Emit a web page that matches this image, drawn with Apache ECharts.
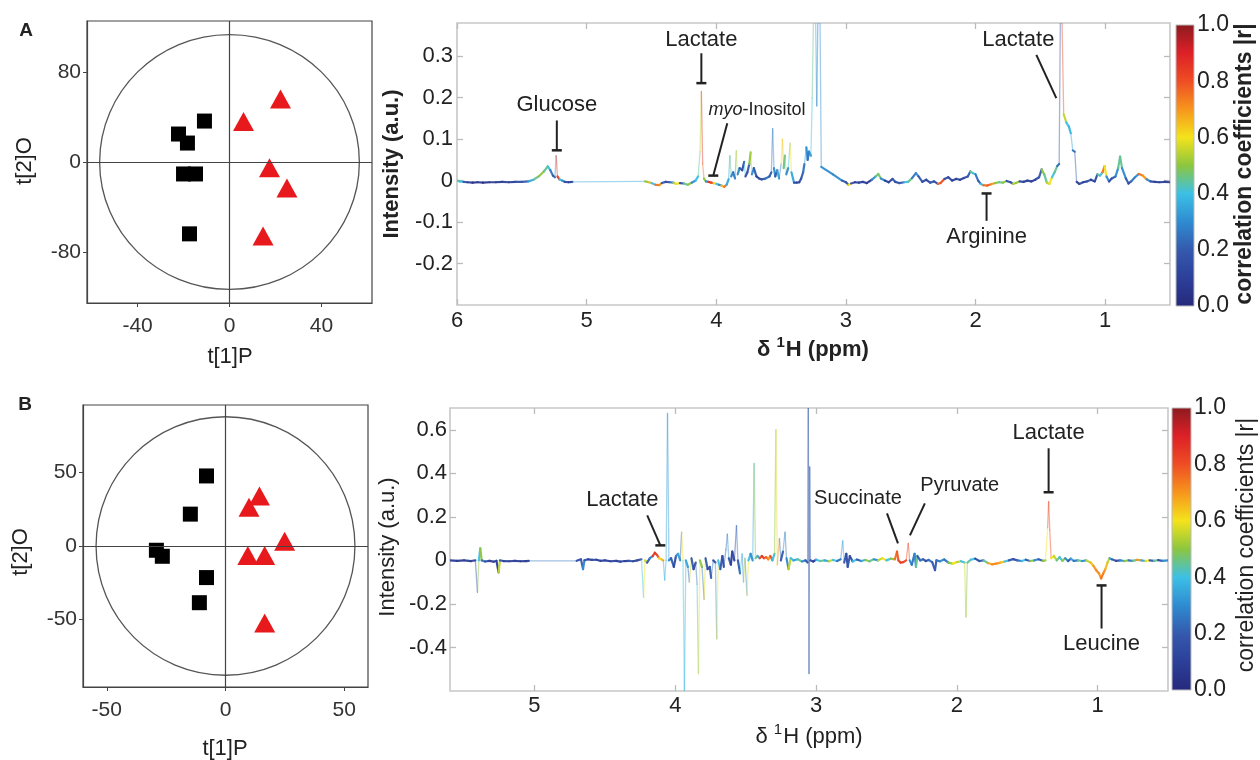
<!DOCTYPE html>
<html><head><meta charset="utf-8">
<script src="https://cdn.jsdelivr.net/npm/echarts@6/dist/echarts.min.js"></script>
<style>html,body{margin:0;padding:0;background:#fff}#c{width:1260px;height:760px}</style>
</head><body><div id="c"></div>
<script>
const FONT = '"Liberation Sans", Arial, Helvetica, sans-serif';

// ---------- score plots (t[1]P, t[2]O) ----------
const scoreA_control = [[-22.2,24.8],[-18.3,16.8],[-10.9,36.3],[-20,-10.6],[-14.8,-10.6],[-17.4,-63.7]];
const scoreA_treated = [[22.2,55.8],[6.1,36],[17.4,-5],[25,-23],[14.6,-65.5]];
const ellipseA = [0, 0, 56.5, 113];          // centre x, centre y, semi-axis x, semi-axis y
const ticksA_x = [-40, 0, 40];
const ticksA_y = [-80, 0, 80];

const scoreB_control = [[-8,47.7],[-14.8,21.7],[-29.1,-2.9],[-26.6,-7],[-8,-21.5],[-11,-38.6]];
const scoreB_treated = [[14.3,34],[9.9,26.4],[24.9,3.2],[9.4,-6.4],[16.5,-6.4],[16.5,-52.4]];
const ellipseB = [0, 0, 54.5, 88];
const ticksB_x = [-50, 0, 50];
const ticksB_y = [-50, 0, 50];

// ---------- spectra: [ppm, intensity, |r|] ----------
const specA = [
[6.00,0.000,0.45],[5.98,-0.002,0.40],[5.95,-0.003,0.20],[5.92,-0.004,0.10],[5.88,-0.005,0.05],[5.84,-0.004,0.08],
[5.80,-0.005,0.05],[5.75,-0.004,0.10],[5.70,-0.004,0.08],[5.65,-0.003,0.12],[5.60,-0.004,0.10],[5.55,-0.003,0.15],
[5.50,-0.003,0.20],[5.45,-0.002,0.35],[5.41,0.002,0.45],[5.37,0.010,0.50],[5.33,0.022,0.45],[5.30,0.034,0.40],
[5.28,0.025,0.25],[5.26,0.012,0.20],[5.245,0.008,0.30],[5.235,0.060,0.85],[5.225,0.010,0.85],[5.21,0.003,0.40],
[5.19,0.000,0.30],[5.17,-0.003,0.15],[5.14,-0.004,0.10],[5.11,-0.003,0.35],[4.55,-0.002,0.50],[4.52,-0.004,0.65],
[4.50,-0.006,0.40],[4.47,-0.010,0.75],[4.44,-0.011,0.70],[4.42,-0.006,0.20],[4.39,-0.003,0.15],[4.36,-0.004,0.25],
[4.33,-0.005,0.55],[4.31,-0.008,0.60],[4.28,-0.006,0.15],[4.25,-0.007,0.45],[4.22,-0.010,0.50],[4.19,-0.005,0.30],
[4.16,0.000,0.40],[4.14,0.010,0.45],[4.125,0.070,0.55],[4.115,0.215,0.85],[4.105,0.040,0.75],[4.095,0.005,0.50],
[4.08,-0.002,0.30],[4.06,-0.003,0.85],[4.04,-0.005,0.80],[4.02,-0.006,0.60],[4.00,-0.008,0.40],[3.98,-0.010,0.30],
[3.96,-0.012,0.65],[3.94,-0.015,0.75],[3.92,-0.010,0.35],[3.905,0.003,0.35],[3.895,0.060,0.45],[3.885,0.010,0.30],
[3.87,0.020,0.25],[3.855,0.005,0.35],[3.845,0.072,0.60],[3.835,0.015,0.30],[3.82,0.030,0.20],[3.80,0.025,0.15],
[3.785,0.045,0.40],[3.775,0.010,0.15],[3.76,0.020,0.20],[3.745,0.040,0.50],[3.735,0.068,0.55],[3.725,0.015,0.30],
[3.71,0.030,0.20],[3.69,0.010,0.10],[3.67,0.005,0.15],[3.65,0.003,0.18],[3.62,0.005,0.25],[3.59,0.010,0.20],
[3.575,0.020,0.25],[3.565,0.125,0.30],[3.555,0.030,0.30],[3.545,0.010,0.20],[3.53,0.025,0.35],[3.515,0.005,0.25],
[3.50,0.040,0.60],[3.49,0.100,0.65],[3.48,0.030,0.45],[3.47,0.060,0.55],[3.46,0.015,0.30],[3.445,0.030,0.40],
[3.43,0.090,0.60],[3.42,0.020,0.35],[3.40,-0.005,0.15],[3.38,-0.005,0.12],[3.36,-0.004,0.15],[3.345,0.005,0.20],
[3.33,0.020,0.25],[3.32,0.040,0.30],[3.305,0.080,0.30],[3.295,0.050,0.25],[3.285,0.070,0.30],[3.27,0.060,0.40],
[3.26,0.200,0.45],[3.25,0.400,0.35],[3.235,0.420,0.35],[3.225,0.180,0.25],[3.215,0.420,0.35],[3.20,0.400,0.30],
[3.19,0.033,0.30],[3.10,0.015,0.30],[3.03,0.000,0.20],[3.00,-0.004,0.15],[2.98,-0.010,0.60],[2.96,-0.007,0.15],
[2.93,-0.004,0.10],[2.90,-0.005,0.12],[2.87,-0.003,0.10],[2.84,-0.006,0.08],[2.80,0.002,0.30],[2.77,0.010,0.45],
[2.75,0.016,0.48],[2.73,0.005,0.30],[2.70,0.000,0.10],[2.67,-0.004,0.12],[2.64,0.004,0.20],[2.62,-0.003,0.15],
[2.59,-0.006,0.20],[2.55,-0.004,0.40],[2.52,-0.003,0.45],[2.49,0.006,0.25],[2.46,0.018,0.30],[2.44,0.010,0.20],
[2.41,-0.003,0.15],[2.38,0.002,0.12],[2.35,-0.005,0.20],[2.32,-0.002,0.15],[2.29,-0.008,0.75],[2.27,-0.006,0.80],
[2.24,0.004,0.15],[2.21,0.008,0.12],[2.18,0.000,0.10],[2.15,0.004,0.12],[2.12,0.002,0.10],[2.09,0.006,0.15],
[2.06,0.010,0.20],[2.04,0.022,0.45],[2.02,0.018,0.40],[2.00,0.015,0.25],[1.98,0.000,0.20],[1.96,-0.008,0.40],
[1.94,-0.011,0.75],[1.91,-0.012,0.78],[1.88,-0.009,0.70],[1.85,-0.006,0.50],[1.82,-0.004,0.45],[1.79,-0.005,0.50],
[1.76,-0.001,0.15],[1.73,-0.004,0.20],[1.71,-0.008,0.55],[1.69,-0.006,0.50],[1.66,-0.002,0.15],[1.63,-0.003,0.10],
[1.60,0.000,0.12],[1.57,-0.002,0.10],[1.54,0.002,0.15],[1.51,0.008,0.20],[1.49,0.027,0.50],[1.47,0.015,0.45],
[1.45,-0.005,0.55],[1.43,-0.008,0.60],[1.41,0.008,0.40],[1.39,0.020,0.45],[1.37,0.035,0.25],[1.355,0.040,0.20],
[1.345,0.420,0.80],[1.335,0.420,0.80],[1.32,0.160,0.55],[1.30,0.140,0.40],[1.28,0.130,0.38],[1.265,0.114,0.35],
[1.25,0.073,0.25],[1.235,0.070,0.20],[1.22,-0.003,0.10],[1.20,-0.008,0.15],[1.17,-0.004,0.10],[1.14,-0.002,0.20],
[1.11,0.002,0.10],[1.08,-0.002,0.15],[1.06,0.015,0.45],[1.04,0.012,0.40],[1.02,0.020,0.75],[1.005,0.035,0.60],
[0.99,0.010,0.30],[0.97,-0.002,0.15],[0.95,0.005,0.20],[0.92,0.010,0.30],[0.90,0.030,0.45],[0.885,0.058,0.45],
[0.87,0.030,0.30],[0.84,0.005,0.20],[0.82,-0.007,0.15],[0.80,-0.002,0.25],[0.77,0.008,0.30],[0.74,0.016,0.75],
[0.71,0.012,0.70],[0.68,0.003,0.30],[0.65,-0.002,0.15],[0.62,-0.003,0.10],[0.58,-0.004,0.12],[0.54,-0.003,0.10],
[0.50,-0.004,0.12]
];
const specB = [
[5.60,0.000,0.10],[5.55,-0.002,0.08],[5.50,0.000,0.10],[5.45,-0.003,0.12],[5.42,0.000,0.15],[5.405,-0.147,0.50],
[5.395,0.000,0.40],[5.385,0.055,0.50],[5.375,0.000,0.25],[5.35,-0.005,0.15],[5.32,-0.002,0.10],[5.29,-0.006,0.12],
[5.27,-0.002,0.10],[5.255,-0.055,0.55],[5.245,0.000,0.20],[5.22,-0.003,0.10],[5.18,-0.004,0.12],[5.14,-0.002,0.10],
[5.10,-0.004,0.08],[5.06,-0.003,0.10],[5.04,-0.002,0.25],[4.70,-0.002,0.15],[4.67,0.005,0.20],[4.655,-0.040,0.30],
[4.645,0.000,0.20],[4.62,0.005,0.10],[4.59,0.002,0.15],[4.56,0.003,0.10],[4.53,-0.002,0.12],[4.50,0.000,0.10],
[4.46,-0.004,0.12],[4.42,-0.002,0.10],[4.39,-0.006,0.15],[4.36,-0.003,0.10],[4.33,-0.002,0.20],[4.30,-0.004,0.12],
[4.27,0.000,0.15],[4.24,0.005,0.40],[4.225,-0.170,0.60],[4.215,0.000,0.55],[4.20,-0.010,0.20],[4.18,0.010,0.30],
[4.16,0.020,0.85],[4.145,0.035,0.85],[4.13,0.025,0.80],[4.115,0.010,0.60],[4.10,0.005,0.65],[4.085,0.000,0.35],
[4.075,-0.090,0.38],[4.065,0.000,0.35],[4.055,0.675,0.32],[4.045,0.000,0.30],[4.03,0.010,0.20],[4.01,-0.030,0.15],
[3.995,0.020,0.30],[3.98,0.030,0.35],[3.965,0.000,0.20],[3.955,0.130,0.60],[3.945,0.000,0.40],[3.935,-0.600,0.38],
[3.925,0.000,0.35],[3.91,-0.030,0.20],[3.90,-0.100,0.55],[3.885,0.010,0.20],[3.87,-0.040,0.15],[3.855,-0.010,0.25],
[3.845,-0.110,0.40],[3.835,-0.520,0.60],[3.825,0.000,0.50],[3.81,-0.030,0.25],[3.795,-0.180,0.58],[3.785,0.010,0.20],
[3.77,-0.040,0.15],[3.755,-0.030,0.20],[3.745,-0.080,0.25],[3.73,0.000,0.15],[3.715,-0.010,0.30],[3.705,-0.360,0.60],
[3.695,0.000,0.40],[3.68,-0.040,0.20],[3.665,0.020,0.15],[3.655,-0.030,0.20],[3.64,0.050,0.25],[3.63,0.120,0.30],
[3.62,0.010,0.20],[3.605,-0.020,0.10],[3.595,0.040,0.15],[3.58,0.000,0.10],[3.565,0.160,0.25],[3.555,0.000,0.20],
[3.54,-0.060,0.40],[3.525,0.030,0.30],[3.515,-0.100,0.55],[3.505,0.010,0.30],[3.49,-0.160,0.60],[3.48,0.000,0.40],
[3.465,0.030,0.30],[3.45,0.000,0.35],[3.44,0.445,0.48],[3.43,0.010,0.45],[3.415,0.020,0.35],[3.40,0.010,0.80],
[3.385,0.020,0.85],[3.37,0.010,0.80],[3.355,0.015,0.75],[3.34,0.005,0.70],[3.325,0.020,0.80],[3.31,0.000,0.40],
[3.295,0.030,0.50],[3.285,0.600,0.58],[3.275,-0.020,0.70],[3.26,0.100,0.25],[3.25,0.000,0.20],[3.235,0.040,0.30],
[3.22,0.130,0.25],[3.21,0.010,0.30],[3.195,-0.040,0.55],[3.18,0.010,0.40],[3.16,0.000,0.35],[3.13,0.005,0.45],
[3.10,-0.005,0.30],[3.075,0.000,0.20],[3.06,-0.010,0.15],[3.055,0.700,0.20],[3.05,-0.520,0.20],[3.045,0.430,0.18],
[3.04,0.000,0.15],[3.02,-0.005,0.10],[3.00,0.003,0.40],[2.97,-0.003,0.45],[2.94,0.000,0.35],[2.91,-0.004,0.55],
[2.88,0.002,0.40],[2.85,-0.003,0.25],[2.825,0.005,0.30],[2.81,0.090,0.35],[2.80,-0.010,0.20],[2.785,0.030,0.15],
[2.775,-0.030,0.20],[2.76,0.020,0.15],[2.74,-0.005,0.40],[2.71,0.004,0.20],[2.68,-0.003,0.35],[2.65,0.002,0.50],
[2.62,-0.004,0.45],[2.59,0.005,0.30],[2.56,0.000,0.55],[2.53,0.010,0.60],[2.50,0.000,0.40],[2.47,0.008,0.50],
[2.44,0.005,0.75],[2.425,0.040,0.78],[2.415,0.000,0.80],[2.40,-0.010,0.85],[2.38,-0.008,0.82],[2.36,0.000,0.80],
[2.345,0.078,0.82],[2.335,0.000,0.30],[2.32,-0.020,0.25],[2.30,0.030,0.30],[2.29,-0.030,0.45],[2.28,0.020,0.20],
[2.26,0.000,0.25],[2.24,0.005,0.20],[2.22,-0.003,0.15],[2.20,0.002,0.25],[2.175,-0.008,0.20],[2.155,-0.045,0.20],
[2.145,0.000,0.25],[2.12,-0.004,0.30],[2.09,0.004,0.25],[2.06,-0.010,0.50],[2.03,-0.015,0.60],[2.00,-0.008,0.55],
[1.97,-0.004,0.40],[1.945,-0.010,0.55],[1.935,-0.260,0.50],[1.925,-0.010,0.45],[1.90,0.003,0.40],[1.87,0.008,0.15],
[1.84,-0.003,0.20],[1.81,0.000,0.45],[1.78,-0.012,0.68],[1.75,-0.018,0.72],[1.72,-0.015,0.70],[1.69,-0.010,0.65],
[1.66,-0.005,0.40],[1.63,0.000,0.20],[1.60,0.006,0.15],[1.57,0.000,0.25],[1.54,-0.003,0.40],[1.51,0.003,0.20],
[1.48,-0.003,0.50],[1.45,0.000,0.30],[1.42,0.005,0.20],[1.39,-0.002,0.50],[1.37,0.000,0.60],[1.355,0.150,0.80],
[1.348,0.270,0.82],[1.34,0.140,0.80],[1.33,0.010,0.60],[1.31,0.020,0.55],[1.29,0.000,0.45],[1.27,0.015,0.40],
[1.25,-0.002,0.50],[1.23,0.010,0.30],[1.21,-0.003,0.20],[1.19,0.008,0.35],[1.17,-0.002,0.25],[1.14,0.000,0.45],
[1.11,-0.003,0.30],[1.08,0.000,0.55],[1.05,-0.010,0.65],[1.03,-0.025,0.70],[1.01,-0.045,0.72],[0.99,-0.060,0.70],
[0.975,-0.083,0.75],[0.96,-0.060,0.72],[0.945,-0.040,0.65],[0.93,-0.010,0.55],[0.915,0.010,0.35],[0.90,0.005,0.20],
[0.87,-0.002,0.15],[0.84,0.000,0.30],[0.81,-0.003,0.50],[0.78,0.000,0.25],[0.75,-0.002,0.45],[0.72,0.002,0.70],
[0.69,0.000,0.35],[0.66,-0.003,0.60],[0.63,0.000,0.20],[0.60,-0.002,0.45],[0.57,0.001,0.15],[0.54,-0.002,0.30],
[0.50,0.000,0.20]
];
const ppmTicksA = [1, 2, 3, 4, 5, 6];
const intTicksA = [-0.2, -0.1, 0, 0.1, 0.2, 0.3];
const ppmTicksB = [1, 2, 3, 4, 5];
const intTicksB = [-0.4, -0.2, 0, 0.2, 0.4, 0.6];
const cbarTicks = [0, 0.2, 0.4, 0.6, 0.8, 1];

// ---------- annotations (data coordinates) ----------
const annA_labels = ['Glucose', 'Lactate', '{i|myo}-Inositol', 'Lactate', 'Arginine'];
const annA_textAt = [[5.23,0.182],[4.115,0.339],[3.685,0.170],[1.67,0.339],[1.915,-0.136]];
const annA_lines  = [[5.23,0.145,5.23,0.073],[4.115,0.307,4.115,0.235],[3.915,0.138,4.023,0.012],[1.531,0.303,1.377,0.199],[1.915,-0.031,1.915,-0.097]];
const annA_bars   = ['end','end','end','none','start'];
const annA_sizes  = [22, 22, 18, 22, 22];
const annB_labels = ['Lactate', 'Succinate', 'Pyruvate', 'Lactate', 'Leucine'];
const annB_textAt = [[4.376,0.276],[2.702,0.285],[1.979,0.345],[1.348,0.584],[0.972,-0.382]];
const annB_lines  = [[4.199,0.207,4.106,0.069],[2.496,0.216,2.418,0.078],[2.227,0.262,2.333,0.115],[1.348,0.515,1.348,0.313],[0.972,-0.115,0.972,-0.313]];
const annB_bars   = ['end','none','none','end','start'];
const annB_sizes  = [22, 20, 20, 22, 22];

const jet = ['#26297c','#2c3f98','#3459ad','#2f8bd0','#3cc0e6','#8cc63f','#f4e31c','#f7951d','#ee4d24','#dd2027','#8b1b1f'];

// ---------- helpers ----------
function segments(spec){
  const out = [];
  for (let i = 0; i < spec.length - 1; i++) out.push([spec[i][0], spec[i][1], spec[i+1][0], spec[i+1][1], spec[i][2]]);
  return out;
}
function segItem(params, api){
  const p0 = api.coord([api.value(0), api.value(1)]);
  const p1 = api.coord([api.value(2), api.value(3)]);
  const dx = Math.abs(p1[0]-p0[0]), dy = Math.abs(p1[1]-p0[1]);
  const faint = dy > 14 || dx > 30;
  return {type:'line', shape:{x1:p0[0], y1:p0[1], x2:p1[0], y2:p1[1]},
    style:{stroke: api.visual('color'), lineWidth: faint ? 1.3 : 2.2, opacity: faint ? 0.45 : 0.95, lineCap:'round'}};
}
function annItem(labels, lines, bars, sizes){
  return function(params, api){
    const i = params.dataIndex;
    const t = api.coord([api.value(0), api.value(1)]);
    const L = lines[i];
    const a = api.coord([L[0], L[1]]), b = api.coord([L[2], L[3]]);
    const ch = [{type:'line', shape:{x1:a[0], y1:a[1], x2:b[0], y2:b[1]}, style:{stroke:'#222', lineWidth:2}}];
    if (bars[i] !== 'none') {
      const q = bars[i] === 'end' ? b : a;
      ch.push({type:'line', shape:{x1:q[0]-5, y1:q[1], x2:q[0]+5, y2:q[1]}, style:{stroke:'#222', lineWidth:2.5}});
    }
    ch.push({type:'text', x:t[0], y:t[1], style:{text:labels[i], fontSize:sizes[i], fontFamily:FONT, fill:'#222',
      align:'center', verticalAlign:'middle', rich:{i:{fontStyle:'italic', fontSize:sizes[i], fontFamily:FONT, fill:'#222'}}}});
    return {type:'group', children:ch};
  };
}
function ellipseItem(params, api){
  const c = api.coord([api.value(0), api.value(1)]);
  const s = api.size([api.value(2), api.value(3)]);
  return {type:'ellipse', shape:{cx:c[0], cy:c[1], rx:s[0], ry:s[1]}, style:{fill:'none', stroke:'#555', lineWidth:1.3}};
}
function cbarItem(params, api){
  const p0 = api.coord([0, 0]), p1 = api.coord([1, 1]);
  const stops = jet.map((c, k) => ({offset: k/(jet.length-1), color: c}));
  return {type:'rect', shape:{x:p0[0], y:p1[1], width:p1[0]-p0[0], height:p0[1]-p1[1]},
    style:{fill: new echarts.graphic.LinearGradient(0, 1, 0, 0, stops), stroke:'#bbb', lineWidth:1}};
}
const fmt1 = v => Math.abs(v) < 1e-9 ? '0' : v.toFixed(1);

function scoreX(grid, min, max, ticks){
  return {gridIndex:grid, type:'value', min:min, max:max, splitLine:{show:false},
    axisLine:{show:true, onZero:false, lineStyle:{color:'#444', width:1.2}},
    axisTick:{show:true, inside:false, length:4, customValues:ticks, lineStyle:{color:'#444'}},
    axisLabel:{customValues:ticks, fontSize:21, fontFamily:FONT, color:'#333', margin:13}};
}
function scoreY(grid, min, max, ticks){
  return {gridIndex:grid, type:'value', min:min, max:max, splitLine:{show:false},
    axisLine:{show:true, onZero:false, lineStyle:{color:'#444', width:1.2}},
    axisTick:{show:true, inside:false, length:4, customValues:ticks, lineStyle:{color:'#444'}},
    axisLabel:{customValues:ticks, fontSize:21, fontFamily:FONT, color:'#333', margin:6}};
}
function specX(grid, min, max, ticks, pos, lbl, margin){
  return {gridIndex:grid, type:'value', inverse:true, min:min, max:max, position:pos, splitLine:{show:false},
    axisLine:{show:false, onZero:false},
    axisTick:{show:true, inside:true, length:6, customValues:ticks, lineStyle:{color:'#bbb', width:1.3}},
    axisLabel:{show:lbl, customValues:ticks, fontSize:22, fontFamily:FONT, color:'#222', margin:margin}};
}
function specY(grid, min, max, ticks, pos, lbl, margin){
  return {gridIndex:grid, type:'value', min:min, max:max, position:pos, splitLine:{show:false},
    axisLine:{show:false, onZero:false},
    axisTick:{show:true, inside:true, length:6, customValues:ticks, lineStyle:{color:'#bbb', width:1.3}},
    axisLabel:{show:lbl, customValues:ticks, formatter:fmt1, fontSize:22, fontFamily:FONT, color:'#222', margin:margin}};
}
function cbarY(grid){
  return {gridIndex:grid, type:'value', min:0, max:1, position:'right', splitLine:{show:false},
    axisLine:{show:false, onZero:false}, axisTick:{show:false},
    axisLabel:{customValues:cbarTicks, formatter:v => v.toFixed(1), fontSize:23, fontFamily:FONT, color:'#222', margin:3}};
}
function txt(x, y, s, size, weight, rot, rich){
  return {type:'text', x:x, y:y, rotation:rot || 0, silent:true,
    style:{text:s, fontSize:size, fontWeight:weight, fontFamily:FONT, fill:'#222', align:'center', verticalAlign:'middle',
      textAlign:'center', textVerticalAlign:'middle', rich:rich}};
}
function ppmRich(weight){
  return {a:{fontSize:22, fontWeight:weight, fontFamily:FONT, fill:'#222', lineHeight:26, verticalAlign:'bottom'},
          s:{fontSize:15, fontWeight:weight, fontFamily:FONT, fill:'#222', lineHeight:26, verticalAlign:'top', padding:[0,1,0,0]}};
}
const crossLine = {silent:true, symbol:'none', label:{show:false}, animation:false,
  lineStyle:{color:'#444', type:'solid', width:1.2}, emphasis:{disabled:true}, data:[{xAxis:0},{yAxis:0}]};

const option = {
  animation:false,
  backgroundColor:'#fff',
  grid:[
    {left:87, top:21, width:285, height:282, show:true, borderColor:'#444', borderWidth:1.2},
    {left:83, top:405, width:285, height:282, show:true, borderColor:'#444', borderWidth:1.2},
    {left:457, top:23, width:713, height:282, show:true, borderColor:'#c8c8c8', borderWidth:1.6},
    {left:450, top:408, width:718, height:283, show:true, borderColor:'#c8c8c8', borderWidth:1.6},
    {left:1176, top:25, width:18, height:281},
    {left:1172, top:408, width:19, height:282}
  ],
  xAxis:[
    scoreX(0, -62, 62, ticksA_x),
    scoreX(1, -60, 60, ticksB_x),
    specX(2, 0.5, 6, ppmTicksA, 'bottom', true, 5),
    specX(3, 0.5, 5.6, ppmTicksB, 'bottom', true, 4),
    specX(2, 0.5, 6, ppmTicksA, 'top', false, 4),
    specX(3, 0.5, 5.6, ppmTicksB, 'top', false, 4),
    {gridIndex:4, type:'value', min:0, max:1, show:false},
    {gridIndex:5, type:'value', min:0, max:1, show:false}
  ],
  yAxis:[
    scoreY(0, -125, 125, ticksA_y),
    scoreY(1, -96, 96, ticksB_y),
    specY(2, -0.3, 0.38, intTicksA, 'left', true, 4),
    specY(3, -0.6, 0.7, intTicksB, 'left', true, 3),
    specY(2, -0.3, 0.38, intTicksA, 'right', false, 4),
    specY(3, -0.6, 0.7, intTicksB, 'right', false, 4),
    cbarY(4),
    cbarY(5)
  ],
  visualMap:[
    {type:'continuous', show:false, min:0, max:1, dimension:4, seriesIndex:6, inRange:{color:jet}},
    {type:'continuous', show:false, min:0, max:1, dimension:4, seriesIndex:7, inRange:{color:jet}}
  ],
  series:[
    {type:'custom', xAxisIndex:0, yAxisIndex:0, data:[ellipseA], encode:{x:0, y:1}, renderItem:ellipseItem, silent:true, z:1},
    {type:'scatter', xAxisIndex:0, yAxisIndex:0, data:scoreA_control, symbol:'rect', symbolSize:15, itemStyle:{color:'#000', opacity:1}, z:3, markLine:crossLine},
    {type:'scatter', xAxisIndex:0, yAxisIndex:0, data:scoreA_treated, symbol:'triangle', symbolSize:[21,19], itemStyle:{color:'#e8191c', opacity:1}, z:3},
    {type:'custom', xAxisIndex:1, yAxisIndex:1, data:[ellipseB], encode:{x:0, y:1}, renderItem:ellipseItem, silent:true, z:1},
    {type:'scatter', xAxisIndex:1, yAxisIndex:1, data:scoreB_control, symbol:'rect', symbolSize:15, itemStyle:{color:'#000', opacity:1}, z:3, markLine:crossLine},
    {type:'scatter', xAxisIndex:1, yAxisIndex:1, data:scoreB_treated, symbol:'triangle', symbolSize:[21,19], itemStyle:{color:'#e8191c', opacity:1}, z:3},
    {type:'custom', xAxisIndex:2, yAxisIndex:2, data:segments(specA), encode:{x:[0,2], y:[1,3]}, renderItem:segItem, clip:true, silent:true},
    {type:'custom', xAxisIndex:3, yAxisIndex:3, data:segments(specB), encode:{x:[0,2], y:[1,3]}, renderItem:segItem, clip:true, silent:true},
    {type:'custom', xAxisIndex:2, yAxisIndex:2, data:annA_textAt, encode:{x:0, y:1}, renderItem:annItem(annA_labels, annA_lines, annA_bars, annA_sizes), silent:true, z:5},
    {type:'custom', xAxisIndex:3, yAxisIndex:3, data:annB_textAt, encode:{x:0, y:1}, renderItem:annItem(annB_labels, annB_lines, annB_bars, annB_sizes), silent:true, z:5},
    {type:'custom', xAxisIndex:6, yAxisIndex:6, data:[[0,0,1,1]], encode:{x:[0,2], y:[1,3]}, renderItem:cbarItem, silent:true},
    {type:'custom', xAxisIndex:7, yAxisIndex:7, data:[[0,0,1,1]], encode:{x:[0,2], y:[1,3]}, renderItem:cbarItem, silent:true}
  ],
  graphic:[
    txt(26, 31, 'A', 19, 'bold'),
    txt(25, 405, 'B', 19, 'bold'),
    txt(230, 357, 't[1]P', 22, 'normal'),
    txt(25, 161, 't[2]O', 22, 'normal', Math.PI/2),
    txt(225, 749, 't[1]P', 22, 'normal'),
    txt(21, 552, 't[2]O', 22, 'normal', Math.PI/2),
    txt(392, 164, 'Intensity (a.u.)', 22, 'bold', Math.PI/2),
    txt(813, 348, '{a|δ }{s|1}{a|H (ppm)}', 22, 'bold', 0, ppmRich('bold')),
    txt(388, 547, 'Intensity (a.u.)', 22, 'normal', Math.PI/2),
    txt(809, 735, '{a|δ }{s|1}{a|H (ppm)}', 22, 'normal', 0, ppmRich('normal')),
    txt(1245, 164, 'correlation coefficients |r|', 23, 'bold', Math.PI/2),
    txt(1247, 545, 'correlation coefficients |r|', 23, 'normal', Math.PI/2)
  ]
};
const chart = echarts.init(document.getElementById('c'), null, {renderer:'canvas'});
chart.setOption(option);
</script>
</body></html>
